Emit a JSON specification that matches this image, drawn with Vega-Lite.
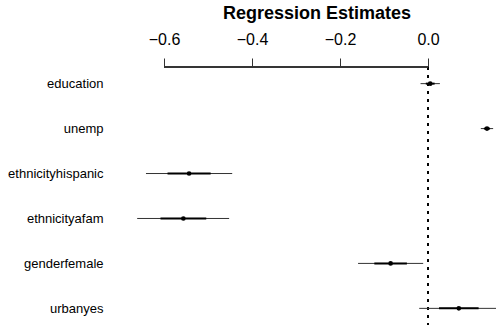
{
  "$schema": "https://vega.github.io/schema/vega-lite/v6.json",
  "autosize": "none",
  "width": 366,
  "height": 258,
  "padding": {"left": 130, "top": 67, "right": 0, "bottom": 0},
  "background": "white",
  "config": {
    "view": {"stroke": null},
    "font": "Liberation Sans",
    "axis": {"labelColor": "black", "labelFont": "Liberation Sans"}
  },
  "title": {
    "text": "Regression Estimates",
    "fontSize": 18,
    "fontWeight": "bold",
    "font": "Liberation Sans",
    "color": "black",
    "anchor": "middle",
    "dx": 4,
    "dy": -2,
    "offset": 6
  },
  "data": {
    "values": [
      {"term": "education", "est": 0.005, "lo1": -0.005, "hi1": 0.015, "lo2": -0.017, "hi2": 0.027},
      {"term": "unemp", "est": 0.134, "lo1": 0.127, "hi1": 0.141, "lo2": 0.120, "hi2": 0.148},
      {"term": "ethnicityhispanic", "est": -0.543, "lo1": -0.592, "hi1": -0.494, "lo2": -0.641, "hi2": -0.445},
      {"term": "ethnicityafam", "est": -0.556, "lo1": -0.608, "hi1": -0.504, "lo2": -0.661, "hi2": -0.452},
      {"term": "genderfemale", "est": -0.085, "lo1": -0.122, "hi1": -0.048, "lo2": -0.159, "hi2": -0.011},
      {"term": "urbanyes", "est": 0.070, "lo1": 0.025, "hi1": 0.115, "lo2": -0.020, "hi2": 0.160}
    ]
  },
  "encoding": {
    "y": {
      "field": "term",
      "type": "nominal",
      "sort": null,
      "scale": {"type": "point", "padding": 0.37},
      "axis": {"title": null, "domain": false, "ticks": false, "labelFontSize": 13, "labelPadding": 27}
    }
  },
  "layer": [
    {
      "mark": {"type": "rule", "color": "black", "strokeWidth": 1, "strokeDash": [3, 5]},
      "encoding": {"x": {"datum": 0, "type": "quantitative"}, "y": null}
    },
    {
      "mark": {"type": "rule", "color": "#333333", "strokeWidth": 1},
      "encoding": {
        "x": {"datum": -0.6, "type": "quantitative"},
        "x2": {"datum": 0},
        "y": {"value": 0}
      }
    },
    {
      "mark": {"type": "rule", "color": "#333333", "strokeWidth": 1, "clip": true},
      "encoding": {
        "x": {
          "field": "lo2",
          "type": "quantitative",
          "scale": {"domain": [-0.6773, 0.1545], "nice": false, "zero": false},
          "axis": {
            "orient": "top",
            "title": null,
            "values": [-0.6, -0.4, -0.2, 0],
            "format": ".1f",
            "domain": false,
            "grid": false,
            "ticks": true,
            "tickSize": 9,
            "tickColor": "#333333",
            "labelFontSize": 16,
            "labelPadding": 11,
            "labelFlush": false
          }
        },
        "x2": {"field": "hi2"}
      }
    },
    {
      "mark": {"type": "rule", "color": "black", "strokeWidth": 2},
      "encoding": {
        "x": {"field": "lo1", "type": "quantitative"},
        "x2": {"field": "hi1"}
      }
    },
    {
      "mark": {"type": "point", "filled": true, "color": "black", "opacity": 1, "size": 22},
      "encoding": {
        "x": {"field": "est", "type": "quantitative"}
      }
    }
  ]
}
